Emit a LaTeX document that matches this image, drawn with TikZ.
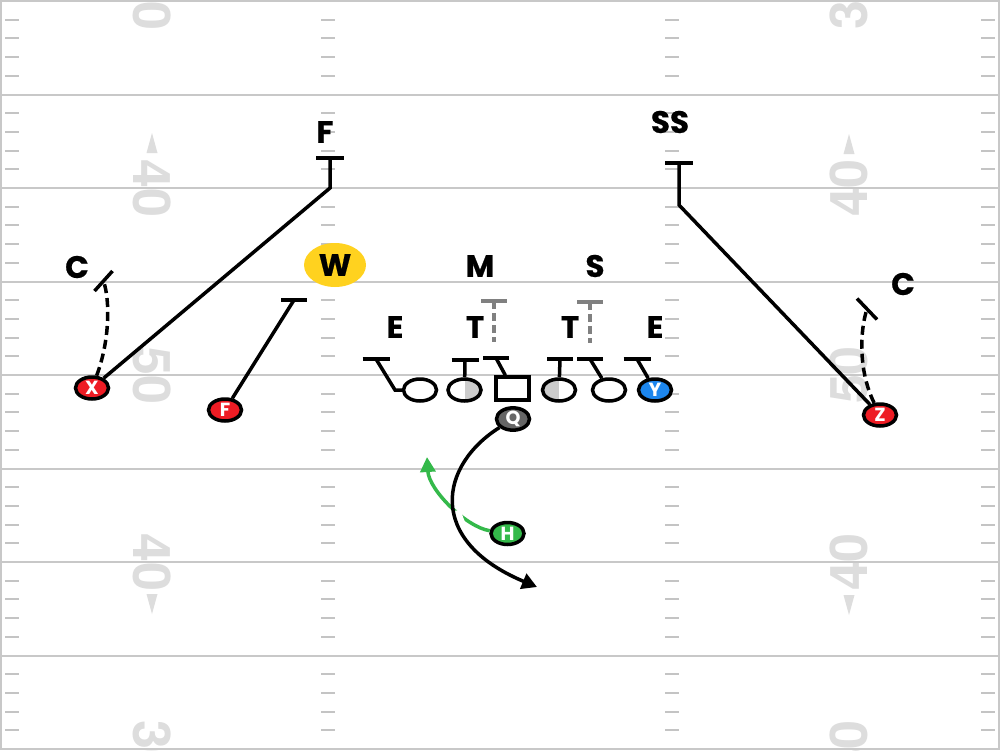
\documentclass[tikz,border=0pt]{standalone}
\usepackage{fontspec}
\setmainfont{Poppins}[BoldFeatures={FakeBold=0.6}]
\newfontfamily\plfont{Poppins}
\newfontfamily\numfont{TeX Gyre Heros}
\usetikzlibrary{arrows.meta,shapes.geometric}
\definecolor{linegray}{HTML}{C8C8C8}
\definecolor{hashgray}{HTML}{C4C4C4}
\definecolor{numgray}{HTML}{DDDDDD}
\definecolor{pred}{HTML}{EE1C24}
\definecolor{pblue}{HTML}{1C86EE}
\definecolor{pgreen}{HTML}{34B94A}
\definecolor{qgray}{HTML}{666666}
\definecolor{wyellow}{HTML}{FFD21F}
\definecolor{halfgray}{HTML}{CCCCCC}
\definecolor{dgray}{HTML}{808080}
\begin{document}
\begin{tikzpicture}[x=1pt,y=-1pt,
 yard/.style={draw=linegray,line width=2pt},
 hash/.style={draw=hashgray,line width=2pt},
 num/.style={font=\numfont\bfseries\fontsize{52}{52}\selectfont,text=numgray,inner sep=0pt},
 tri/.style={fill=numgray},
 player/.style={ellipse,draw=black,line width=3.5pt,minimum width=33pt,minimum height=22pt,inner sep=0pt,text=white,font=\plfont\bfseries\fontsize{19}{19}\selectfont},
 lineman/.style={player,fill=white},
 route/.style={draw=black,line width=3.5pt},
 tbar/.style={draw=black,line width=3.5pt},
 droute/.style={route,dash pattern=on 9pt off 5pt},
 gbar/.style={draw=dgray,line width=3.5pt},
 groute/.style={gbar,dash pattern=on 8pt off 4pt},
 dlabel/.style={font=\bfseries\fontsize{31}{31}\selectfont,inner sep=0pt},
]
\useasboundingbox (0,0) rectangle (1000,750);
\fill[white] (0,0) rectangle (1000,750);
% field numbers
\foreach \yy/\tx in {1/30,188/40,375/50,562/40,749/30}{
 \node[num,rotate=-90] (nl\yy) at (152,\yy) {\tx};
 \node[num,rotate=90] (nr\yy) at (849,\yy) {\tx};
}
\fill[tri] (152,133) -- (157.5,153) -- (146.5,153) -- cycle;
\fill[tri] (152,614) -- (157.5,594) -- (146.5,594) -- cycle;
\fill[tri] (849,134) -- (854.5,154) -- (843.5,154) -- cycle;
\fill[tri] (849,615) -- (854.5,595) -- (843.5,595) -- cycle;
% yard lines
\foreach \yy in {1,94.5,188,281.5,375,468.5,562,655.5,749} \draw[yard] (0,\yy) -- (1000,\yy);
\draw[yard] (1,0) -- (1,750);
\draw[yard] (999,0) -- (999,750);
% hash marks
\foreach \k in {0,...,7}{\foreach \j in {1,...,4}{
 \pgfmathsetmacro\hy{1+93.5*\k+18.7*\j}
 \foreach \hx in {5,321,665,981} \draw[hash] (\hx,\hy) -- ++(14,0);
}}
% defense labels
\node[dlabel] (dF) at (325,132) {F};
\node[dlabel] (dSS) at (670,122) {SS};
\node[dlabel] (dCL) at (77,267) {C};
\node[dlabel] (dCR) at (903,284) {C};
\node[ellipse,fill=wyellow,minimum width=62pt,minimum height=44pt,dlabel] (W) at (335,265) {W};
\node[dlabel] (dM) at (480,266) {M};
\node[dlabel] (dS) at (595,266) {S};
\node[dlabel] (dEL) at (395,327) {E};
\node[dlabel] (dTL) at (475,327) {T};
\node[dlabel] (dTR) at (570,327) {T};
\node[dlabel] (dER) at (655,327) {E};
% offense
\node[player,fill=pred] (X) at (92,388) {X};
\node[player,fill=pred] (F) at (225,410) {F};
\node[player,fill=pred] (Z) at (880,415) {Z};
\node[player,fill=pblue] (Y) at (655,390) {Y};
\node[player,fill=qgray] (Q) at (513,419) {Q};
\node[player,fill=pgreen] (H) at (507.5,533.5) {H};
\node[lineman] (LT) at (420,390) {};
\node[lineman,path picture={\fill[halfgray] (path picture bounding box.north) rectangle (path picture bounding box.south east);}] (LG) at (464.5,390) {};
\node[draw=black,line width=3.5pt,fill=white,minimum width=33pt,minimum height=23pt,inner sep=0pt] (C) at (512.5,388.5) {};
\node[lineman,path picture={\fill[halfgray] (path picture bounding box.south west) rectangle (path picture bounding box.north);}] (RG) at (559,390) {};
\node[lineman] (RT) at (609,390) {};
% coordinates
\coordinate (fk) at (330,188); \coordinate (fe) at (330,158);
\coordinate (sk) at (679,205); \coordinate (se) at (679,163);
\coordinate (cle) at (103.5,281); \coordinate (cre) at (867,309);
\coordinate (ofe) at (294,300);
\coordinate (k1) at (395,390); \coordinate (b1) at (376,359);
\coordinate (b2) at (465,360); \coordinate (b3) at (496,358);
\coordinate (b4) at (560,359); \coordinate (b5) at (590,359);
\coordinate (b6) at (637,359);
\coordinate (g1) at (494,301); \coordinate (g1e) at (494,342);
\coordinate (g2) at (590,302); \coordinate (g2e) at (590,343);
\coordinate (qend) at (537,587); \coordinate (hend) at (427,457);
% long routes
\draw[route] (X) -- (fk) -- (fe);
\draw[tbar] (fe) ++(-14,0) -- ++(28,0);
\draw[route] (Z) -- (sk) -- (se);
\draw[tbar] (se) ++(-14,0) -- ++(28,0);
\draw[route] (F) -- (ofe);
\draw[tbar] (ofe) ++(-13,0) -- ++(26,0);
\draw[droute] (X) .. controls (110,340) and (110,300) .. (cle);
\draw[tbar] (cle) ++(-9,10) -- ++(18,-20);
\draw[droute] (Z) .. controls (858,370) and (860,330) .. (cre);
\draw[tbar] (cre) ++(-10,-10.5) -- ++(20,21);
% line blocks
\draw[route] (LT.west) -- (k1) -- (b1);
\draw[tbar] (b1) ++(-13.5,0) -- ++(27,0);
\draw[route] (LG) -- (b2);
\draw[tbar] (b2) ++(-13.5,0) -- ++(27,0);
\draw[route] (C) -- (b3);
\draw[tbar] (b3) ++(-13,0) -- ++(26,0);
\draw[route] (RG) -- (b4);
\draw[tbar] (b4) ++(-13,0) -- ++(26,0);
\draw[route] (RT) -- (b5);
\draw[tbar] (b5) ++(-13,0) -- ++(26,0);
\draw[route] (Y) -- (b6);
\draw[tbar] (b6) ++(-13.5,0) -- ++(27,0);
% defensive tackles
\draw[gbar] (g1) ++(-13,0) -- ++(26,0);
\draw[groute] (g1) -- (g1e);
\draw[gbar] (g2) ++(-13,0) -- ++(26,0);
\draw[groute] (g2) -- (g2e);
% backfield
\draw[draw=pgreen,line width=3.5pt,-{Triangle[length=15pt,width=15pt]}] (H) .. controls (466,527) and (429,490) .. (hend);
\begin{scope}
\clip (459,522) circle (12);
\draw[white,line width=12pt] (Q) .. controls (440,465) and (425,540) .. (qend);
\end{scope}
\draw[route,-{Triangle[length=15pt,width=16pt]}] (Q) .. controls (440,465) and (425,540) .. (qend);
\end{tikzpicture}
\end{document}
